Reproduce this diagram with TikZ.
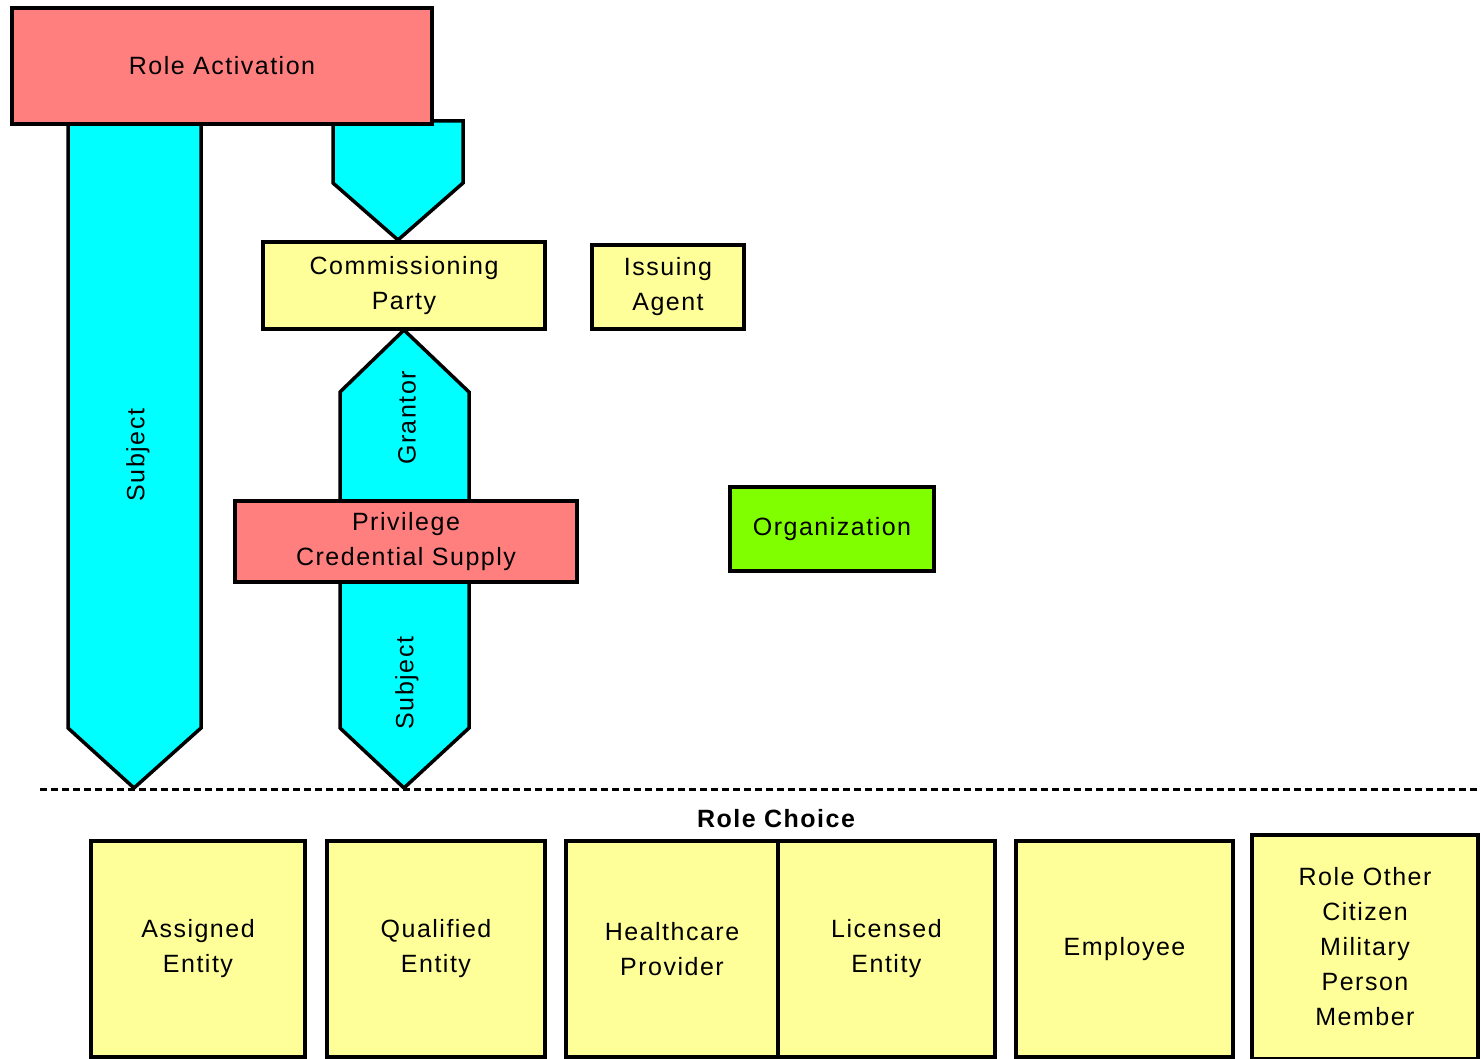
\documentclass[tikz,border=0pt]{standalone}
\usepackage{fontspec}
\setmainfont[LetterSpace=6]{Liberation Sans}
\definecolor{salmon}{HTML}{FF7F7F}
\definecolor{paleyel}{HTML}{FFFF99}
\definecolor{aqua}{HTML}{00FFFF}
\definecolor{lime}{HTML}{80FF00}
\begin{document}
\begin{tikzpicture}[x=1pt,y=-1pt,
  box/.style={draw=black,line width=3.5pt,inner sep=0pt,align=center,
    font=\fontsize{25}{35}\selectfont},
  redbox/.style={box,fill=salmon},
  yelbox/.style={box,fill=paleyel},
  grnbox/.style={box,fill=lime},
  blockarrow/.style={draw=black,fill=aqua,line width=3.5pt,line join=miter},
  vlabel/.style={rotate=90,font=\fontsize{25}{30}\selectfont},
  sep/.style={line width=3pt,dash pattern=on 7pt off 4pt}]
\useasboundingbox (0,0) rectangle (1481,1059);
\fill[white] (0,0) rectangle (1481,1059);

% coordinates for block arrows
\coordinate (s1tl) at (68,124);
\coordinate (s1tr) at (201,124);
\coordinate (s1br) at (201,728);
\coordinate (s1tip) at (134,788);
\coordinate (s1bl) at (68,728);

% block arrows (under the boxes)
\draw[blockarrow] (s1tl) -- (s1tr) -- (s1br) -- (s1tip) -- (s1bl) -- cycle;
\node[vlabel] (subj1) at (138,455) {Subject};

\draw[blockarrow] (333,121) -- (463,121) -- (463,183) -- (398,240) -- (333,183) -- cycle;

\draw[blockarrow] (404,330) -- (469,392) -- (469,501) -- (340,501) -- (340,392) -- cycle;
\node[vlabel] (grantor) at (407,418) {Grantor};

\draw[blockarrow] (340,582) -- (469,582) -- (469,728) -- (404,788) -- (340,728) -- cycle;
\node[vlabel] (subj2) at (407,683) {Subject};

% boxes
\node[redbox,minimum width=420pt,minimum height=116pt] (roleact) at (222,66) {Role Activation};
\node[yelbox,minimum width=282pt,minimum height=87pt] (comm) at (404,285.5) {Commissioning\\Party};
\node[yelbox,minimum width=152pt,minimum height=84pt] (issuing) at (668,287) {Issuing\\Agent};
\node[redbox,minimum width=342pt,minimum height=81pt] (priv) at (406,541.5) {Privilege\\Credential Supply};
\node[grnbox,minimum width=204pt,minimum height=84pt] (org) at (832,529) {Organization};

% separator
\coordinate (sepL) at (40,789);
\coordinate (sepR) at (1481,789);
\draw[sep] (sepL) -- (sepR);
\node[font=\fontsize{25}{30}\selectfont\bfseries] (rolechoice) at (776,819) {Role Choice};

% role choice boxes
\node[yelbox,minimum width=214pt,minimum height=216pt] (assigned) at (198,949) {Assigned\\Entity};
\node[yelbox,minimum width=218pt,minimum height=216pt] (qualified) at (436,949) {Qualified\\Entity};
\node[yelbox,minimum width=212pt,minimum height=216pt] (health) at (672,949) {Healthcare\\Provider};
\node[yelbox,minimum width=217pt,minimum height=216pt] (licensed) at (886.5,949) {Licensed\\Entity};
\node[yelbox,minimum width=217pt,minimum height=216pt] (employee) at (1124.5,949) {Employee};
\node[yelbox,minimum width=226pt,minimum height=224pt] (other) at (1365,947) {Role Other\\Citizen\\Military\\Person\\Member};
\end{tikzpicture}
\end{document}
